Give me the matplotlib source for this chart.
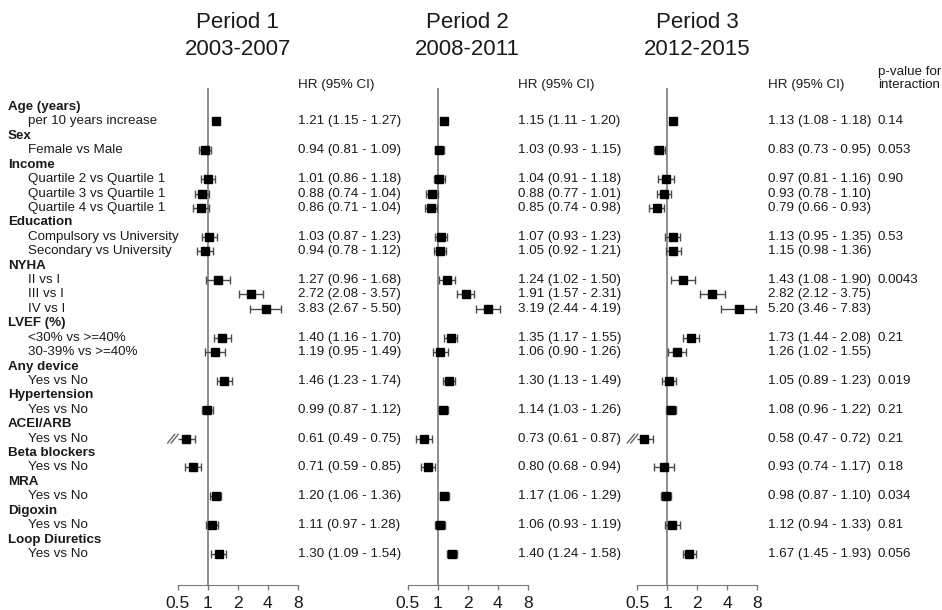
import matplotlib
matplotlib.use('Agg')
import matplotlib.pyplot as plt
from matplotlib import rcParams
from matplotlib.transforms import blended_transform_factory

rcParams['font.family'] = ['Liberation Sans', 'DejaVu Sans']

# Строки таблицы: (текст, заголовок группы?)
row_labels = ["Age (years)", "per 10 years increase",
              "Sex", "Female vs Male",
              "Income", "Quartile 2 vs Quartile 1", "Quartile 3 vs Quartile 1",
              "Quartile 4 vs Quartile 1",
              "Education", "Compulsory vs University", "Secondary vs University",
              "NYHA", "II vs I", "III vs I", "IV vs I",
              "LVEF (%)", "<30% vs >=40%", "30-39% vs >=40%",
              "Any device", "Yes vs No",
              "Hypertension", "Yes vs No",
              "ACEI/ARB", "Yes vs No",
              "Beta blockers", "Yes vs No",
              "MRA", "Yes vs No",
              "Digoxin", "Yes vs No",
              "Loop Diuretics", "Yes vs No"]
heading_rows = [0, 2, 4, 8, 11, 15, 18, 20, 22, 24, 26, 28, 30]
item_rows = [1, 3, 5, 6, 7, 9, 10, 12, 13, 14, 16, 17, 19, 21, 23, 25, 27, 29, 31]

periods = ["Period 1\n2003-2007", "Period 2\n2008-2011", "Period 3\n2012-2015"]

hr1 = [1.21, 0.94, 1.01, 0.88, 0.86, 1.03, 0.94, 1.27, 2.72, 3.83, 1.40, 1.19, 1.46, 0.99, 0.61, 0.71, 1.20, 1.11, 1.30]
lo1 = [1.15, 0.81, 0.86, 0.74, 0.71, 0.87, 0.78, 0.96, 2.08, 2.67, 1.16, 0.95, 1.23, 0.87, 0.49, 0.59, 1.06, 0.97, 1.09]
hi1 = [1.27, 1.09, 1.18, 1.04, 1.04, 1.23, 1.12, 1.68, 3.57, 5.50, 1.70, 1.49, 1.74, 1.12, 0.75, 0.85, 1.36, 1.28, 1.54]

hr2 = [1.15, 1.03, 1.04, 0.88, 0.85, 1.07, 1.05, 1.24, 1.91, 3.19, 1.35, 1.06, 1.30, 1.14, 0.73, 0.80, 1.17, 1.06, 1.40]
lo2 = [1.11, 0.93, 0.91, 0.77, 0.74, 0.93, 0.92, 1.02, 1.57, 2.44, 1.17, 0.90, 1.13, 1.03, 0.61, 0.68, 1.06, 0.93, 1.24]
hi2 = [1.20, 1.15, 1.18, 1.01, 0.98, 1.23, 1.21, 1.50, 2.31, 4.19, 1.55, 1.26, 1.49, 1.26, 0.87, 0.94, 1.29, 1.19, 1.58]

hr3 = [1.13, 0.83, 0.97, 0.93, 0.79, 1.13, 1.15, 1.43, 2.82, 5.20, 1.73, 1.26, 1.05, 1.08, 0.58, 0.93, 0.98, 1.12, 1.67]
lo3 = [1.08, 0.73, 0.81, 0.78, 0.66, 0.95, 0.98, 1.08, 2.12, 3.46, 1.44, 1.02, 0.89, 0.96, 0.47, 0.74, 0.87, 0.94, 1.45]
hi3 = [1.18, 0.95, 1.16, 1.10, 0.93, 1.35, 1.36, 1.90, 3.75, 7.83, 2.08, 1.55, 1.23, 1.22, 0.72, 1.17, 1.10, 1.33, 1.93]

p_rows = [1, 3, 5, 9, 12, 16, 19, 21, 23, 25, 27, 29, 31]
p_values = ["0.14", "0.053", "0.90", "0.53", "0.0043", "0.21", "0.019", "0.21", "0.21", "0.18", "0.034", "0.81", "0.056"]

ticks = [0.5, 1, 2, 4, 8]
tick_labels = ["0.5", "1", "2", "4", "8"]

W, H = 942, 610
x05_px = [177.7, 407.7, 637.3]
x8_px = [297.7, 527.7, 757.3]
text_px = [298, 518, 768]
p_px = 878
top_px, bot_px = 88, 585
row0_px, row_step = 107, (554 - 107) / 31

txt_col = '#1a1a1a'
line_col = '#7a7a7a'
ci_col = '#4a4a4a'
fs = 9.6

fig = plt.figure(figsize=(W / 100, H / 100), dpi=100)
ytop = -(row0_px - top_px) / row_step
ybot = (bot_px - row0_px) / row_step

data = [(hr1, lo1, hi1), (hr2, lo2, hi2), (hr3, lo3, hi3)]
axes = []
for k in range(3):
    pad = 14
    ppd = (x8_px[k] - x05_px[k]) / 4
    ax = fig.add_axes([(x05_px[k] - pad) / W, 1 - bot_px / H,
                       (x8_px[k] - x05_px[k] + 2 * pad) / W, (bot_px - top_px) / H])
    ax.set_xscale('log', base=2)
    ax.set_xlim(0.5 * 2 ** (-pad / ppd), 8 * 2 ** (pad / ppd))
    ax.set_ylim(ybot, ytop)
    ax.patch.set_alpha(0)
    for s in ['top', 'right', 'left']:
        ax.spines[s].set_visible(False)
    ax.spines['bottom'].set_bounds(0.5, 8)
    ax.spines['bottom'].set_color(line_col)
    ax.set_xticks(ticks)
    ax.set_xticklabels(tick_labels)
    ax.minorticks_off()
    ax.tick_params(axis='x', direction='out', length=3.6, width=1, colors=line_col,
                   labelcolor=txt_col, labelsize=12.5, pad=4)
    ax.set_yticks([])
    ax.axvline(1, color=line_col, lw=1.2, zorder=1)

    hr, lo, hi = data[k]
    for r, h, l, u in zip(item_rows, hr, lo, hi):
        left = max(l, 0.5)
        ax.hlines(r, left, u, color=ci_col, lw=1, zorder=2)
        ax.plot([u], [r], marker='|', ms=6, mew=1, color=ci_col, zorder=2)
        if l >= 0.5:
            ax.plot([l], [r], marker='|', ms=6, mew=1, color=ci_col, zorder=2)
        else:
            # значок разрыва "//" у левой границы шкалы
            for off in (-7, -3.5):
                xs = [0.5 * 2 ** ((off - 3) / ppd), 0.5 * 2 ** ((off + 4) / ppd)]
                ax.plot(xs, [r + 0.3, r - 0.3], color='#666666', lw=1, clip_on=False, zorder=2)
        ax.plot([h], [r], marker='s', ms=5.4, color='black', zorder=3)

    tr = blended_transform_factory(fig.transFigure, ax.transData)
    for r, h, l, u in zip(item_rows, hr, lo, hi):
        ax.text(text_px[k] / W, r, f"{h:.2f} ({l:.2f} - {u:.2f})", transform=tr,
                ha='left', va='center', fontsize=fs, color=txt_col)
    fig.text(text_px[k] / W, 1 - 85 / H, "HR (95% CI)", ha='left', va='center',
             fontsize=fs, color=txt_col)

    xc = (x05_px[k] + x8_px[k]) / 2 / W
    t1, t2 = periods[k].split("\n")
    fig.text(xc, 1 - 28 / H, t1, ha='center', va='baseline', fontsize=16, color=txt_col)
    fig.text(xc, 1 - 55 / H, t2, ha='center', va='baseline', fontsize=16, color=txt_col)
    axes.append(ax)

tr = blended_transform_factory(fig.transFigure, axes[0].transData)
for i, lab in enumerate(row_labels):
    if i in heading_rows:
        axes[0].text(8 / W, i, lab, transform=tr, ha='left', va='center',
                     fontsize=fs, fontweight='bold', color=txt_col)
    else:
        axes[0].text(28 / W, i, lab, transform=tr, ha='left', va='center',
                     fontsize=fs, color=txt_col)

tr3 = blended_transform_factory(fig.transFigure, axes[2].transData)
for r, p in zip(p_rows, p_values):
    axes[2].text(p_px / W, r, p, transform=tr3, ha='left', va='center',
                 fontsize=fs, color=txt_col)
fig.text(p_px / W, 1 - 72 / H, "p-value for", ha='left', va='center', fontsize=fs, color=txt_col)
fig.text(p_px / W, 1 - 85 / H, "interaction", ha='left', va='center', fontsize=fs, color=txt_col)

plt.savefig("out.png", dpi=100)
